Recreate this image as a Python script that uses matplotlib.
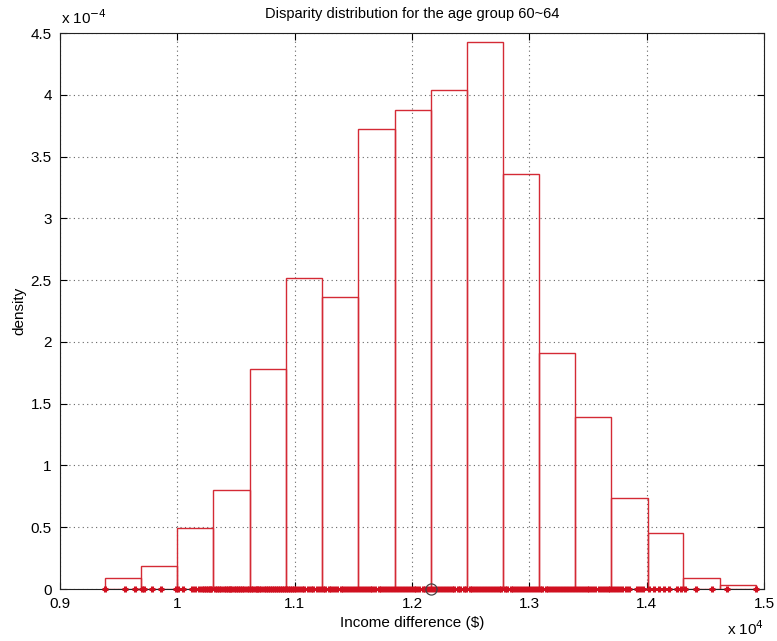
import numpy as np
import matplotlib
matplotlib.use("Agg")
import matplotlib.pyplot as plt

plt.rcParams['font.family'] = ['Liberation Sans', 'DejaVu Sans']

# bin edges (x 10^4 $) and densities (x 10^-4)
bin_edges = [0.9383, 0.9692, 1.0000, 1.0308, 1.0617, 1.0926, 1.1232, 1.1542, 1.1851,
             1.2160, 1.2470, 1.2779, 1.3085, 1.3389, 1.3700, 1.4007, 1.4313, 1.4626, 1.4934]
density = [0.09, 0.19, 0.49, 0.80, 1.78, 2.52, 2.36, 3.72, 3.88,
           4.04, 4.43, 3.36, 1.91, 1.39, 0.74, 0.45, 0.09, 0.03]

# individual observations shown on the baseline (x 10^4 $)
samples = [
    0.9380, 0.9551, 0.9638, 0.9695, 0.9717, 0.9780, 0.9860, 0.9987, 1.0007, 1.0049,
    1.0126, 1.0149, 1.0185, 1.0210, 1.0228, 1.0245, 1.0262, 1.0275, 1.0291, 1.0318,
    1.0335, 1.0352, 1.0370, 1.0395, 1.0412, 1.0430, 1.0448, 1.0461, 1.0480, 1.0502,
    1.0520, 1.0536, 1.0555, 1.0571, 1.0590, 1.0612, 1.0628, 1.0645, 1.0667, 1.0683,
    1.0700, 1.0716, 1.0735, 1.0752, 1.0770, 1.0787, 1.0804, 1.0822, 1.0841, 1.0858,
    1.0874, 1.0893, 1.0910, 1.0928, 1.0945, 1.0962, 1.0980, 1.0996, 1.1012, 1.1035,
    1.1061, 1.1083, 1.1110, 1.1138, 1.1160, 1.1187, 1.1212, 1.1238, 1.1261, 1.1290,
    1.1313, 1.1339, 1.1362, 1.1391, 1.1414, 1.1440, 1.1463, 1.1490, 1.1515, 1.1540,
    1.1562, 1.1590, 1.1613, 1.1640, 1.1662, 1.1688, 1.1715, 1.1738, 1.1763, 1.1790,
    1.1812, 1.1840, 1.1863, 1.1889, 1.1912, 1.1940, 1.1963, 1.1988, 1.2013, 1.2038,
    1.2062, 1.2090, 1.2113, 1.2139, 1.2163, 1.2190, 1.2212, 1.2240, 1.2263, 1.2288,
    1.2313, 1.2338, 1.2362, 1.2390, 1.2413, 1.2439, 1.2462, 1.2490, 1.2512, 1.2540,
    1.2563, 1.2588, 1.2613, 1.2638, 1.2662, 1.2690, 1.2713, 1.2739, 1.2762, 1.2790,
    1.2812, 1.2840, 1.2863, 1.2888, 1.2913, 1.2938, 1.2962, 1.2990, 1.3013, 1.3039,
    1.3062, 1.3090, 1.3112, 1.3140, 1.3163, 1.3188, 1.3213, 1.3238, 1.3262, 1.3290,
    1.3313, 1.3339, 1.3362, 1.3390, 1.3412, 1.3440, 1.3463, 1.3488, 1.3512, 1.3538,
    1.3560, 1.3590, 1.3620, 1.3642, 1.3668, 1.3690, 1.3715, 1.3740, 1.3765, 1.3790,
    1.3823, 1.3851, 1.3921, 1.3945, 1.3972, 1.4021, 1.4064, 1.4106, 1.4149, 1.4191,
    1.4260, 1.4291, 1.4325, 1.4424, 1.4560, 1.4688, 1.4932,
]
mean_value = 1.2165

x_ticks = [0.9, 1.0, 1.1, 1.2, 1.3, 1.4, 1.5]
x_labels = ["0.9", "1", "1.1", "1.2", "1.3", "1.4", "1.5"]
y_ticks = [0, 0.5, 1, 1.5, 2, 2.5, 3, 3.5, 4, 4.5]
y_labels = ["0", "0.5", "1", "1.5", "2", "2.5", "3", "3.5", "4", "4.5"]

fig = plt.figure(figsize=(7.77, 6.41), dpi=100)
ax = fig.add_axes([0.0772, 0.0811, 0.9061, 0.8674])

widths = np.diff(bin_edges)
ax.bar(bin_edges[:-1], density, width=widths, align='edge', fill=False,
       edgecolor='#d42a35', linewidth=1.0, zorder=3)

ax.plot(samples, np.zeros(len(samples)), linestyle='none', marker='+',
        color='#d01020', markersize=5, markeredgewidth=2.2, clip_on=False, zorder=4)
ax.plot([mean_value], [0], linestyle='none', marker='o', markerfacecolor='none',
        markeredgecolor='#444444', markersize=8, markeredgewidth=0.9,
        clip_on=False, zorder=5)

ax.set_xlim(0.9, 1.5)
ax.set_ylim(0, 4.5)
ax.set_xticks(x_ticks)
ax.set_xticklabels(x_labels)
ax.set_yticks(y_ticks)
ax.set_yticklabels(y_labels)
ax.tick_params(direction='in', length=5, width=0.8, top=True, right=True,
               labelsize=11, pad=6)
ax.grid(True, linestyle=(0, (1, 3)), color='#666666', linewidth=0.8)
ax.set_axisbelow(True)
for sp in ax.spines.values():
    sp.set_linewidth(0.8)
    sp.set_color('#222222')

ax.set_title("Disparity distribution for the age group 60~64", fontsize=10.5, pad=11)
ax.set_xlabel("Income difference ($)", fontsize=11, labelpad=3)
ax.set_ylabel("density", fontsize=11, labelpad=3)

fig.text(0.079, 0.958, r"x 10$^{-4}$", fontsize=11, ha='left', va='bottom')
fig.text(0.936, 0.004, r"x 10$^{4}$", fontsize=11, ha='left', va='bottom')

fig.savefig("out.png", dpi=100)
